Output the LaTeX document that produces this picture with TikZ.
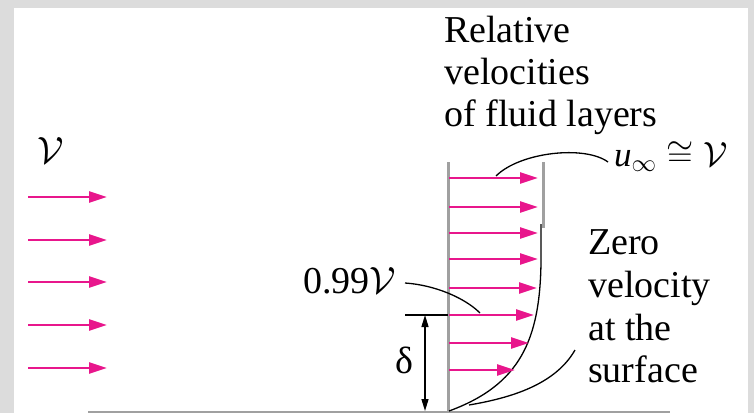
\RequirePackage{fix-cm}
\documentclass[tikz,border=0pt]{standalone}
\usepackage{fontspec}
\setmainfont{Liberation Serif}
\usetikzlibrary{arrows.meta}
\definecolor{flowpink}{RGB}{232,22,140}
\definecolor{wallgrey}{RGB}{160,160,160}
\definecolor{framegrey}{RGB}{220,220,220}
\begin{document}
\begin{tikzpicture}[x=1pt,y=-1pt,
  flow/.style={draw=flowpink, line width=2.6pt, -{Triangle[length=18pt,width=11pt]}},
  wall/.style={draw=wallgrey, line width=3pt},
  lead/.style={draw=black, line width=1.3pt},
  dim/.style={draw=black, line width=1.4pt, {Triangle[length=12pt,width=7pt]}-{Triangle[length=12pt,width=7pt]}},
  lbl/.style={anchor=base west, inner sep=0pt, font=\fontsize{38}{43}\selectfont}]
\useasboundingbox (0,0) rectangle (754,413);
\fill[framegrey] (0,0) rectangle (754,413);
\fill[white] (14,8) rectangle (748,413);
% plate
\draw[draw=wallgrey, line width=2pt] (88,411.5) -- (670,411.5);
% free stream arrows
\foreach \i/\y in {1/197,2/240,3/282,4/325,5/368}{
  \coordinate (fs\i) at (28,\y);
  \coordinate (fe\i) at (107,\y);
  \draw[flow] (fs\i) -- (fe\i);
}
\node[lbl] (Vfree) at (37,163) {$\mathcal{V}$};
% profile walls
\coordinate (wt) at (448,162);
\coordinate (wb) at (448,413);
\draw[wall] (wt) -- (wb);
\coordinate (rt) at (543,162);
\coordinate (rb) at (543,228);
\draw[wall] (rt) -- (rb);
% profile curve
\coordinate (p0) at (541,224);
\coordinate (p1) at (541,262);
\coordinate (p2) at (449,411);
\draw[lead] (p0) -- (p1) .. controls (540,340) and (520,385) .. (p2);
% profile arrows
\foreach \i/\y/\t in {1/178/538,2/207/538,3/233/538,4/259/538,5/288/537,6/315/534,7/343/529,8/370/515}{
  \coordinate (ps\i) at (449,\y);
  \coordinate (pe\i) at (\t,\y);
  \draw[flow] (ps\i) -- (pe\i);
}
% title
\node[lbl] (t1) at (444,42) {Relative};
\node[lbl] (t2) at (444,84) {velocities};
\node[lbl] (t3) at (444,126) {of fluid layers};
% u infinity
\node[lbl, font=\fontsize{35}{40}\selectfont] (uinf) at (614,166) {\textit{u}$_{\infty}\cong\mathcal{V}$};
\coordinate (ua) at (496,176);
\coordinate (ub) at (608,162);
\draw[lead] (ua) .. controls (520,152) and (585,145) .. (ub);
% 0.99 V
\node[lbl] (v99) at (303,293) {0.99$\mathcal{V}$};
\coordinate (va) at (405,283);
\coordinate (vb) at (480,313);
\draw[lead] (va) .. controls (435,285) and (465,298) .. (vb);
% delta
\coordinate (da) at (405,315);
\coordinate (db) at (448,315);
\draw[lead] (da) -- (db);
\coordinate (dt) at (425,315);
\coordinate (dbot) at (425,411);
\draw[dim] (dt) -- (dbot);
\node[lbl] (delta) at (395,373) {δ};
% zero velocity
\node[lbl] (z1) at (588,254) {Zero};
\node[lbl] (z2) at (588,297) {velocity};
\node[lbl] (z3) at (588,340) {at the};
\node[lbl] (z4) at (588,382) {surface};
\coordinate (za) at (575,350);
\coordinate (zb) at (469,405);
\draw[lead] (za) .. controls (555,385) and (510,398) .. (zb);
\end{tikzpicture}
\end{document}
